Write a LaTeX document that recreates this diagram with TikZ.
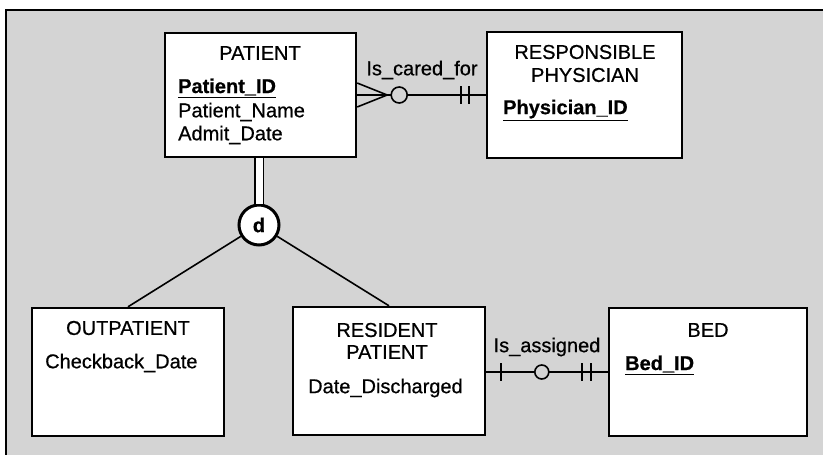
\documentclass[tikz,border=0pt]{standalone}
\usepackage{fontspec}
\setmainfont{Liberation Sans}[FakeBold=0.6,BoldFeatures={FakeBold=0.6}]
\definecolor{bg}{RGB}{212,212,212}
\begin{document}
\begin{tikzpicture}[x=1pt,y=-1pt,
  ent/.style={draw, line width=2.4pt, fill=white, inner sep=0pt},
  title/.style={inner sep=0pt, font=\fontsize{20}{23}\selectfont, align=center},
  attr/.style={inner sep=0pt, anchor=west, font=\fontsize{20}{23}\selectfont},
  conn/.style={line width=1.6pt},
  rel/.style={inner sep=0pt, font=\fontsize{20}{23}\selectfont}]
\useasboundingbox (0,0) rectangle (823,455);
\fill[white] (0,0) rectangle (823,455);
\fill[bg] (6,10) rectangle (823,455);
\draw[line width=2pt] (6,455) -- (6,10) -- (823,10);

% entities
\node[ent, minimum width=191pt, minimum height=124pt] (pat) at (260.5,95) {};
\node[ent, minimum width=195pt, minimum height=126pt] (phys) at (584.5,95) {};
\node[ent, minimum width=192pt, minimum height=128pt] (out) at (128,372) {};
\node[ent, minimum width=192pt, minimum height=128pt] (res) at (389,371) {};
\node[ent, minimum width=198pt, minimum height=128pt] (bed) at (708,372) {};

% texts
\node[title] (patT) at (260,53) {PATIENT};
\node[attr] (patA) at (178,88) {\textbf{\underline{Patient\_ID}}};
\node[attr] (patB) at (178,112) {Patient\_Name};
\node[attr] (patC) at (178,135) {Admit\_Date};

\node[title] (physT1) at (585,52) {RESPONSIBLE};
\node[title] (physT2) at (585,75) {PHYSICIAN};
\node[attr] (physA) at (503,110) {\textbf{\underline{Physician\_ID}}};

\node[title] (outT) at (128,328) {OUTPATIENT};
\node[attr] (outA) at (45,363) {Checkback\_Date};

\node[title] (resT1) at (387,330) {RESIDENT};
\node[title] (resT2) at (387,352) {PATIENT};
\node[attr] (resA) at (308,388) {Date\_Discharged};

\node[title] (bedT) at (708,330) {BED};
\node[attr] (bedA) at (625,365) {\textbf{\underline{Bed\_ID}}};

% subtype circle
\node[circle, draw, line width=3pt, minimum size=40pt, inner sep=0pt, fill=white,
      font=\fontsize{20}{23}\selectfont\bfseries] (d) at (259,225) {d};
\draw[line width=1.6pt, double=white, double distance=7pt] (d.north |- pat.south) -- (d.north);
\draw[conn] (d) -- (out.north);
\draw[conn] (d) -- (res.north);

% Is_cared_for
\node[rel] (care) at (422,70) {Is\_cared\_for};
\draw[conn] (pat.east) -- (phys.west);
\draw[conn] ([shift={(0,-12)}]pat.east) -- ([shift={(30,0)}]pat.east) -- ([shift={(0,12)}]pat.east);
\draw[conn, fill=bg] ([shift={(42,0)}]pat.east) circle (8pt);
\draw[conn] ([shift={(-25,-9)}]phys.west) -- ([shift={(-25,9)}]phys.west);
\draw[conn] ([shift={(-17,-9)}]phys.west) -- ([shift={(-17,9)}]phys.west);

% Is_assigned
\node[rel] (assign) at (547,347) {Is\_assigned};
\draw[conn] (res.east |- bed.west) -- (bed.west);
\draw[conn] ([shift={(15,-9)}]res.east |- bed.west) -- ([shift={(15,9)}]res.east |- bed.west);
\draw[conn, fill=bg] ([shift={(-66,0)}]bed.west) circle (7pt);
\draw[conn] ([shift={(-26,-9)}]bed.west) -- ([shift={(-26,9)}]bed.west);
\draw[conn] ([shift={(-17,-9)}]bed.west) -- ([shift={(-17,9)}]bed.west);
\end{tikzpicture}
\end{document}
